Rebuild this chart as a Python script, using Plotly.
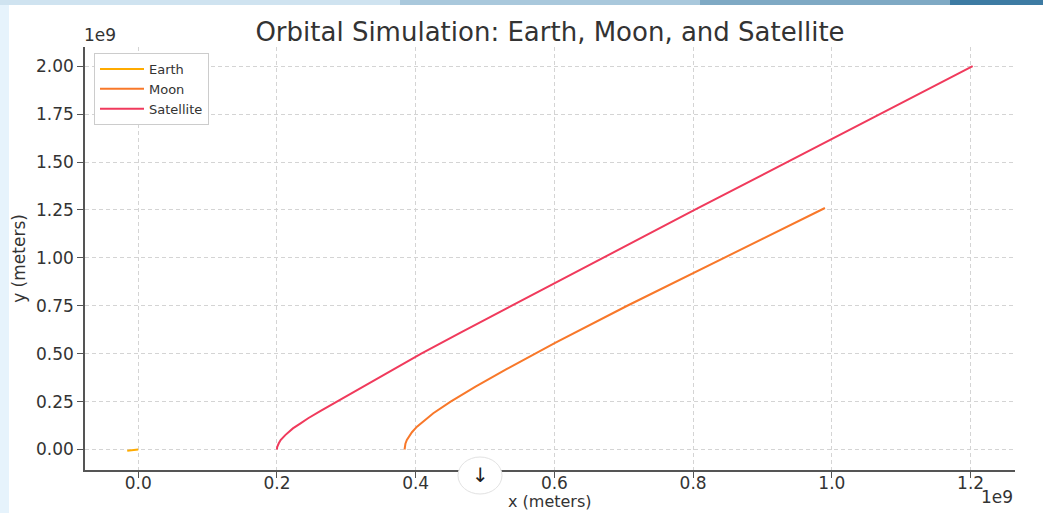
import plotly.graph_objects as go

# Data in units of 1e9 meters
earth_x = [-0.0158, -0.008, 0.0]
earth_y = [-0.007, -0.004, 0.0]

moon_x = [0.384, 0.3843, 0.3852, 0.3873, 0.3898, 0.3946, 0.4019, 0.4254, 0.4504, 0.4863, 0.5316, 0.601, 0.705, 0.801, 0.990]
moon_y = [0.000, 0.012, 0.030, 0.050, 0.066, 0.090, 0.119, 0.189, 0.250, 0.3285, 0.420, 0.556, 0.750, 0.923, 1.260]

sat_x = [0.200, 0.2003, 0.2025, 0.2053, 0.212, 0.2165, 0.223, 0.2335, 0.245, 0.2624, 0.287, 0.3395, 0.408, 0.464, 0.666, 0.802, 1.203]
sat_y = [0.000, 0.012, 0.031, 0.049, 0.075, 0.090, 0.110, 0.135, 0.163, 0.200, 0.250, 0.360, 0.500, 0.609, 0.993, 1.250, 2.000]

x_ticks = [0.0, 0.2, 0.4, 0.6, 0.8, 1.0, 1.2]
y_ticks = [0.0, 0.25, 0.5, 0.75, 1.0, 1.25, 1.5, 1.75, 2.0]

FONT = "DejaVu Sans"
W, H = 1043, 513
L, R, T, B = 85, 28, 47, 43
PW, PH = W - L - R, H - T - B


def px(p):
    return (p - L) / PW


def py(p):
    return (H - B - p) / PH


fig = go.Figure()
fig.add_trace(go.Scatter(x=earth_x, y=earth_y, mode="lines", name="Earth",
                         line=dict(color="#ffab00", width=2)))
fig.add_trace(go.Scatter(x=moon_x, y=moon_y, mode="lines", name="Moon",
                         line=dict(color="#f8782a", width=2)))
fig.add_trace(go.Scatter(x=sat_x, y=sat_y, mode="lines", name="Satellite",
                         line=dict(color="#f03a5c", width=2)))

axis_common = dict(
    showline=True, linecolor="#555555", linewidth=1.5, mirror=False,
    ticks="outside", ticklen=6, tickcolor="#555555", tickwidth=1.2,
    showgrid=True, gridcolor="#d4d4d4", griddash="4px,3px", gridwidth=1,
    zeroline=False, automargin=False,
    tickfont=dict(family=FONT, size=17, color="#333333"),
)

fig.update_xaxes(range=[-0.0767, 1.264], tickvals=x_ticks, tickformat=".1f",
                 ticklabelstandoff=-9, **axis_common)
fig.update_yaxes(range=[-0.107, 2.1], tickvals=y_ticks, tickformat=".2f",
                 title=dict(text="y (meters)", font=dict(family=FONT, size=17, color="#333333"), standoff=6),
                 **axis_common)

shapes = [
    # decorative background strips
    dict(type="rect", xref="paper", yref="paper", x0=px(0), x1=px(9), y0=py(H), y1=py(0),
         fillcolor="#e6f3fc", line=dict(width=0), layer="below"),
    dict(type="rect", xref="paper", yref="paper", x0=px(0), x1=px(400), y0=py(5), y1=py(0),
         fillcolor="#cfe3f0", line=dict(width=0), layer="below"),
    dict(type="rect", xref="paper", yref="paper", x0=px(400), x1=px(700), y0=py(5), y1=py(0),
         fillcolor="#a9c8dc", line=dict(width=0), layer="below"),
    dict(type="rect", xref="paper", yref="paper", x0=px(700), x1=px(950), y0=py(5), y1=py(0),
         fillcolor="#7fa9c4", line=dict(width=0), layer="below"),
    dict(type="rect", xref="paper", yref="paper", x0=px(950), x1=px(W), y0=py(5), y1=py(0),
         fillcolor="#3d7ba3", line=dict(width=0), layer="below"),
    # scroll-down button overlay
    dict(type="circle", xref="paper", yref="paper", x0=px(458), x1=px(502), y0=py(494), y1=py(457),
         fillcolor="white", line=dict(color="#e2e2e2", width=1), layer="above"),
]

annotations = [
    dict(text="x (meters)", xref="paper", yref="paper", x=0.5, y=py(501), xanchor="center", yanchor="middle",
         showarrow=False, font=dict(family=FONT, size=16, color="#333333")),
    dict(text="1e9", xref="paper", yref="paper", x=0, y=1, xanchor="left", yanchor="bottom",
         yshift=0, xshift=-3, showarrow=False, font=dict(family=FONT, size=17, color="#333333")),
    dict(text="1e9", xref="paper", yref="paper", x=1, y=py(497), xanchor="right", yanchor="middle",
         xshift=0, showarrow=False, font=dict(family=FONT, size=17, color="#333333")),
    dict(text="↓", xref="paper", yref="paper", x=px(480), y=py(475), xanchor="center", yanchor="middle",
         showarrow=False, font=dict(family=FONT, size=20, color="#222222")),
]

fig.update_layout(
    width=W, height=H,
    margin=dict(l=L, r=R, t=T, b=B, autoexpand=False),
    paper_bgcolor="white", plot_bgcolor="white",
    title=dict(text="Orbital Simulation: Earth, Moon, and Satellite",
               x=0.5, xref="paper", y=1 - 32 / H, yref="container",
               xanchor="center", yanchor="middle",
               font=dict(family=FONT, size=26, color="#333333")),
    legend=dict(x=px(94), y=py(53), xanchor="left", yanchor="top",
                bgcolor="white", bordercolor="#cccccc", borderwidth=1,
                font=dict(family=FONT, size=13, color="#333333"),
                tracegroupgap=0, itemwidth=44),
    shapes=shapes,
    annotations=annotations,
    showlegend=True,
)

fig.write_html("out.html", config={"displayModeBar": False},
               post_script="document.body.style.margin='0';document.body.style.padding='0';")
